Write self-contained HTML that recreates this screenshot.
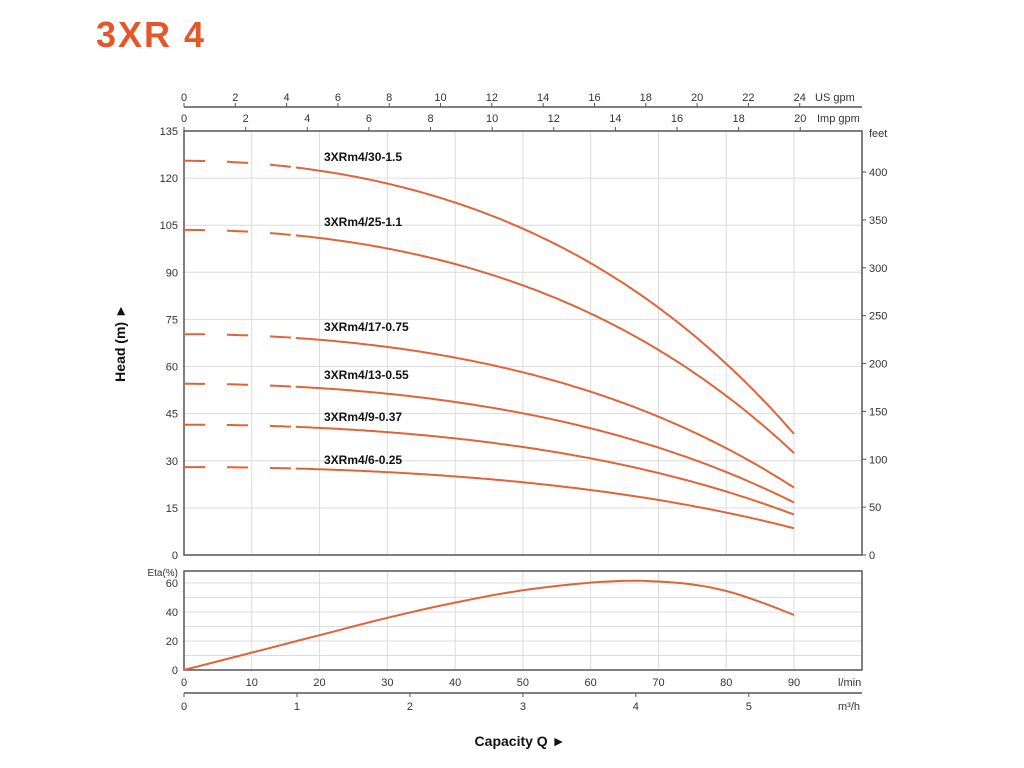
<!DOCTYPE html>
<html><head><meta charset="utf-8"><style>
html,body{margin:0;padding:0;background:#fff;}
svg{display:block;font-family:"Liberation Sans",sans-serif;}
</style></head><body>
<svg id="s" width="1024" height="768" xmlns="http://www.w3.org/2000/svg">
<text x="96" y="47" font-size="36" font-weight="bold" letter-spacing="2" fill="#e4572a">3XR 4</text>
<g id="g"></g>
</svg>
<script>
const NS="http://www.w3.org/2000/svg",g=document.getElementById('g');
function el(t,a,txt){const e=document.createElementNS(NS,t);for(const k in a)e.setAttribute(k,a[k]);if(txt!==undefined)e.textContent=txt;g.appendChild(e);return e;}
const X=q=>184+q*6.778, Y=h=>555-h*3.141, YE=e=>670-e*1.45;
const grid="#dcdcdc",ax="#555",tc="#333";
for(let q=10;q<100;q+=10){el('line',{x1:X(q),x2:X(q),y1:131,y2:555,stroke:grid,'stroke-width':1});el('line',{x1:X(q),x2:X(q),y1:571,y2:670,stroke:grid,'stroke-width':1});}
for(let h=15;h<135;h+=15)el('line',{x1:184,x2:862,y1:Y(h),y2:Y(h),stroke:grid});
for(let e=10;e<70;e+=10)el('line',{x1:184,x2:862,y1:YE(e),y2:YE(e),stroke:grid});
el('rect',{x:184,y:131,width:678,height:424,fill:'none',stroke:ax,'stroke-width':1.5});
el('rect',{x:184,y:571,width:678,height:99,fill:'none',stroke:ax,'stroke-width':1.5});
for(let h=0;h<=135;h+=15)el('text',{x:178,y:Y(h)+4,'font-size':11,'text-anchor':'end',fill:tc},h);
for(let f=0;f<=400;f+=50){const y=Y(f*0.3048);el('line',{x1:862,x2:866,y1:y,y2:y,stroke:ax});el('text',{x:869,y:y+4,'font-size':11,fill:tc},f);}
el('text',{x:869,y:137,'font-size':11,fill:tc},'feet');
el('line',{x1:184,x2:862,y1:107,y2:107,stroke:ax,'stroke-width':1.5});
for(let v=0;v<=24;v+=2){const x=X(v*3.785);el('line',{x1:x,x2:x,y1:103,y2:107,stroke:ax});el('text',{x:x,y:101,'font-size':11,'text-anchor':'middle',fill:tc},v);}
el('text',{x:815,y:101,'font-size':11,fill:tc},'US gpm');
for(let v=0;v<=20;v+=2){const x=X(v*4.546);el('line',{x1:x,x2:x,y1:127,y2:131,stroke:ax});el('text',{x:x,y:122,'font-size':11,'text-anchor':'middle',fill:tc},v);}
el('text',{x:817,y:122,'font-size':11,fill:tc},'Imp gpm');
for(let e=0;e<=60;e+=20)el('text',{x:178,y:YE(e)+4,'font-size':11,'text-anchor':'end',fill:tc},e);
el('text',{x:178,y:576,'font-size':10,'text-anchor':'end',fill:tc},'Eta(%)');
for(let q=0;q<=90;q+=10)el('text',{x:X(q),y:686,'font-size':11,'text-anchor':'middle',fill:tc},q);
el('text',{x:838,y:686,'font-size':11,fill:tc},'l/min');
el('line',{x1:184,x2:862,y1:693,y2:693,stroke:ax,'stroke-width':1.5});
for(let m=0;m<=5;m++){const x=X(m*1000/60);el('line',{x1:x,x2:x,y1:693,y2:697,stroke:ax});el('text',{x:x,y:710,'font-size':11,'text-anchor':'middle',fill:tc},m);}
el('text',{x:838,y:710,'font-size':11,fill:tc},'m³/h');
const col="#e0643a";
const curves=[[125.5,39,'3XRm4/30-1.5',161],[103.5,32.8,'3XRm4/25-1.1',226],[70.3,21.7,'3XRm4/17-0.75',331],[54.5,16.9,'3XRm4/13-0.55',379],[41.5,13,'3XRm4/9-0.37',421],[28,8.6,'3XRm4/6-0.25',464]];
for(const [h0,h9,name,ly] of curves){
 const f=q=>{const r=(q/90)**2;return 0.722*r+0.283*r*r;};
 const H=q=>h0-(h0-h9)*f(q);
 let d1='',d2='';
 for(let q=0;q<=16.3;q+=0.5)d1+=(d1?'L':'M')+X(q).toFixed(1)+','+Y(H(q)).toFixed(1);
 for(let q=16.5;q<=90.01;q+=0.5)d2+=(d2?'L':'M')+X(q).toFixed(1)+','+Y(H(q)).toFixed(1);
 el('path',{d:d1,fill:'none',stroke:col,'stroke-width':2,'stroke-dasharray':'21 22'});
 el('path',{d:d2,fill:'none',stroke:col,'stroke-width':2});
 el('text',{x:324,y:ly,'font-size':12,'font-weight':'bold',fill:'#111'},name);
}
const ep=[[0,0],[10,12],[20,24],[30,36],[40,46.5],[50,55],[60,60.3],[66,61.5],[70,61],[75,59],[80,54.5],[85,47],[90,38]];
let d='';for(let i=0;i<ep.length-1;i++){const [a,ea]=ep[i],[b,eb]=ep[i+1];for(let t=0;t<1;t+=0.25){const p0=ep[Math.max(0,i-1)],p3=ep[Math.min(ep.length-1,i+2)];
 const cr=(p0v,p1,p2,p3v)=>0.5*((2*p1)+(-p0v+p2)*t+(2*p0v-5*p1+4*p2-p3v)*t*t+(-p0v+3*p1-3*p2+p3v)*t*t*t);
 const q=cr(p0[0],a,b,p3[0]),e=cr(p0[1],ea,eb,p3[1]);d+=(d?'L':'M')+X(q).toFixed(1)+','+YE(e).toFixed(1);}}
d+='L'+X(90)+','+YE(38);
el('path',{d:d,fill:'none',stroke:col,'stroke-width':2});
el('text',{x:0,y:0,'font-size':14,'font-weight':'bold',fill:'#111','text-anchor':'middle',transform:'translate(125,343) rotate(-90)'},'Head (m)  ►');
el('text',{x:520,y:746,'font-size':14,'font-weight':'bold',fill:'#111','text-anchor':'middle'},'Capacity Q  ►');
</script>
</body></html>
